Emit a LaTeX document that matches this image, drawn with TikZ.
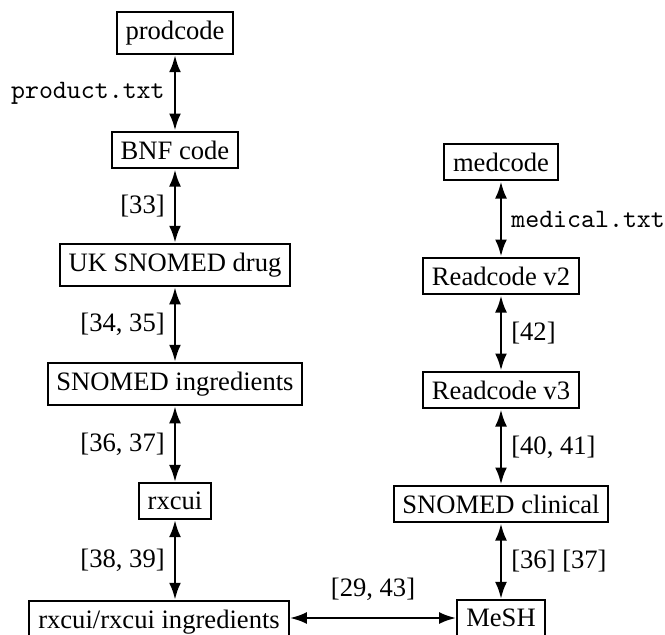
\documentclass[tikz,border=0pt]{standalone}
\usepackage{fontspec}
\setmainfont{Liberation Serif}
\usetikzlibrary{arrows.meta}

\begin{document}
\begin{tikzpicture}[x=0.376pt, y=-0.376pt,
  codebox/.style={draw, line width=0.75pt},
  link/.style={{Latex[length=6.5pt,width=4.5pt]}-{Latex[length=6.5pt,width=4.5pt]}, line width=1.1pt},
  ]
  \useasboundingbox (0,0) rectangle (665,634);
  \clip (0,0) rectangle (665,634);
  % product side
  \node[codebox] (prod) at (175,33) {prodcode};
  \node[codebox] (bnf) at (175,150) {BNF code};
  \node[codebox] (ukdrug) at (175,265) {UK SNOMED drug};
  \node[codebox] (snoing) at (175,384) {SNOMED ingredients};
  \node[codebox] (rxcui) at (175,501) {rxcui};
  \node[codebox] (rxing) at (159,622) {rxcui/rxcui ingredients};
  % medical side
  \node[codebox] (med) at (501,162) {medcode};
  \node[codebox] (read2) at (501,276) {Readcode v2};
  \node[codebox] (read3) at (501,390) {Readcode v3};
  \node[codebox] (snoclin) at (501,504) {SNOMED clinical};
  \node[codebox] (mesh) at (501,618) {MeSH};
  % links
  \draw[link] (prod) -- node[left] (lprod) {\texttt{product.txt}} (bnf);
  \draw[link] (bnf) -- node[left] (lbnf) {[33]} (ukdrug);
  \draw[link] (ukdrug) -- node[left] (lukdrug) {[34, 35]} (snoing);
  \draw[link] (snoing) -- node[left] (lsnoing) {[36, 37]} (rxcui);
  \draw[link] (rxcui) -- node[left] (lrxcui) {[38, 39]} (rxcui |- rxing.north);
  \draw[link] (med) -- node[right] (lmed) {\texttt{medical.txt}} (read2);
  \draw[link] (read2) -- node[right] (lread2) {[42]} (read3);
  \draw[link] (read3) -- node[right] (lread3) {[40, 41]} (snoclin);
  \draw[link] (snoclin) -- node[right] (lsnoclin) {[36] [37]} (mesh);
  \draw[link] (rxing.east |- mesh) -- node[above=2.5pt] (lmesh) {[29, 43]} (mesh);
\end{tikzpicture}
\end{document}
